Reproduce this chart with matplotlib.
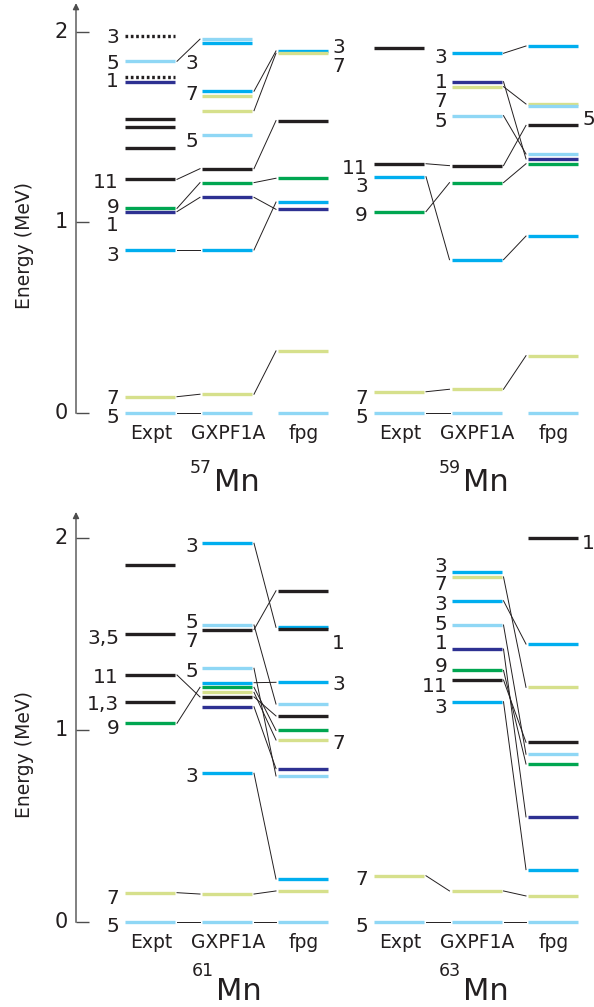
import matplotlib
matplotlib.use("Agg")
import matplotlib.pyplot as plt

plt.rcParams['font.family'] = ['DejaVu Sans']

# ---------------- data ----------------
# spin codes: '1','3','5','7','9' -> 2J of the state, 'k' = other / unassigned, 'd' = tentative (dotted)
columns = ["Expt", "GXPF1A", "fpg"]
yticks = [0, 1, 2]

# 57Mn
mn57_expt_E = [1.979, 1.845, 1.761, 1.738, 1.544, 1.499, 1.389, 1.226, 1.074, 1.057, 0.856, 0.087, 0.0]
mn57_expt_s = ['d', '5', 'd', '1', 'k', 'k', 'k', 'k', '9', '1', '3', '7', '5']
mn57_gx_E = [1.961, 1.939, 1.688, 1.661, 1.586, 1.459, 1.282, 1.209, 1.132, 0.856, 0.100, 0.0]
mn57_gx_s = ['5', '3', '3', '7', '7', '5', 'k', '9', '1', '3', '7', '5']
mn57_fpg_E = [1.899, 1.887, 1.534, 1.232, 1.107, 1.069, 0.327, 0.0]
mn57_fpg_s = ['3', '7', 'k', '9', '3', '1', '7', '5']
mn57_links_a = [(1, 0), (7, 6), (8, 7), (9, 8), (10, 9), (11, 10), (12, 11)]
mn57_links_b = [(2, 0), (4, 1), (6, 2), (7, 3), (8, 5), (9, 4), (10, 6)]
mn57_lab_expt = [("3", 1.979), ("5", 1.843), ("1", 1.750), ("11", 1.223), ("9", 1.089),
                 ("1", 0.996), ("3", 0.840), ("7", 0.087), ("5", -0.012)]
mn57_lab_gx = [("3", 1.846), ("7", 1.681), ("5", 1.438)]
mn57_lab_fpg = [("3", 1.927), ("7", 1.829)]

# 59Mn
mn59_expt_E = [1.913, 1.308, 1.240, 1.057, 0.113, 0.0]
mn59_expt_s = ['k', 'k', '3', '9', '7', '5']
mn59_gx_E = [1.887, 1.738, 1.712, 1.560, 1.298, 1.209, 0.805, 0.126, 0.0]
mn59_gx_s = ['3', '1', '7', '5', 'k', '9', '3', '7', '5']
mn59_fpg_E = [1.925, 1.621, 1.609, 1.509, 1.359, 1.333, 1.308, 0.929, 0.302, 0.0]
mn59_fpg_s = ['3', '7', '5', 'k', '5', '1', '9', '3', '7', '5']
mn59_links_a = [(1, 4), (2, 6), (3, 5), (4, 7), (5, 8)]
mn59_links_b = [(0, 0), (1, 5), (2, 1), (3, 4), (4, 3), (5, 6), (6, 7), (7, 8)]
mn59_lab_expt = [("11", 1.292), ("3", 1.197), ("9", 1.045), ("7", 0.091), ("5", -0.012)]
mn59_lab_gx = [("3", 1.874), ("1", 1.743), ("7", 1.647), ("5", 1.542)]
mn59_lab_fpg = [("5", 1.550)]

# 61Mn
mn61_expt_E = [1.858, 1.498, 1.286, 1.147, 1.035, 0.154, 0.0]
mn61_expt_s = ['k', 'k', 'k', 'k', '9', '7', '5']
mn61_gx_E = [1.971, 1.546, 1.522, 1.321, 1.246, 1.222, 1.196, 1.172, 1.121, 0.775, 0.147, 0.0]
mn61_gx_s = ['3', '5', 'k', '5', '3', '9', '7', 'k', '1', '3', '7', '5']
mn61_fpg_E = [1.724, 1.534, 1.524, 1.248, 1.135, 1.073, 0.998, 0.948, 0.799, 0.761, 0.225, 0.163, 0.0]
mn61_fpg_s = ['k', '3', 'k', '3', '5', 'k', '9', '7', '1', '5', '3', '7', '5']
mn61_links_a = [(2, 7), (4, 5), (5, 10), (6, 11)]
mn61_links_b = [(0, 1), (1, 4), (2, 0), (3, 9), (4, 3), (5, 6), (6, 7), (7, 5),
                (8, 8), (9, 10), (10, 11), (11, 12)]
mn61_lab_expt = [("3,5", 1.485), ("11", 1.282), ("1,3", 1.146), ("9", 1.021), ("7", 0.133), ("5", -0.012)]
mn61_lab_gx = [("3", 1.967), ("5", 1.568), ("7", 1.473), ("5", 1.317), ("3", 0.770)]
mn61_lab_fpg = [("1", 1.459), ("3", 1.247), ("7", 0.943)]

# 63Mn
mn63_expt_E = [0.242, 0.0]
mn63_expt_s = ['7', '5']
mn63_gx_E = [1.822, 1.796, 1.672, 1.546, 1.421, 1.310, 1.260, 1.147, 0.163, 0.0]
mn63_gx_s = ['3', '7', '3', '5', '1', '9', 'k', '3', '7', '5']
mn63_fpg_E = [1.997, 1.447, 1.222, 0.936, 0.874, 0.823, 0.548, 0.274, 0.137, 0.0]
mn63_fpg_s = ['k', '3', '7', 'k', '5', '9', '1', '3', '7', '5']
mn63_links_a = [(0, 8), (1, 9)]
mn63_links_b = [(1, 2), (2, 1), (3, 4), (4, 6), (5, 5), (6, 3), (7, 7), (8, 8), (9, 9)]
mn63_lab_expt = [("7", 0.236), ("5", -0.012)]
mn63_lab_gx = [("3", 1.863), ("7", 1.767), ("3", 1.663), ("5", 1.559), ("1", 1.459),
               ("9", 1.343), ("11", 1.239), ("3", 1.126)]
mn63_lab_fpg = [("1", 1.979)]

# ---------------- style ----------------
COL = {'1': '#2e3192', '3': '#00aeef', '5': '#8fd7f5', '7': '#d6e08c',
       '9': '#00a651', 'k': '#231f20', 'd': '#231f20'}
W, H = 594, 1007
LEN = 50
LABEL_FS = 14.5
fig = plt.figure(figsize=(W / 100, H / 100), dpi=100)


def make_axes(top_px, bot_px, zero_px, scale):
    ax = fig.add_axes([0, 1 - bot_px / H, 1, (bot_px - top_px) / H])
    ax.set_xlim(0, W)
    ax.set_ylim((zero_px - bot_px) / scale, (zero_px - top_px) / scale)
    ax.axis('off')
    return ax


ax_top = make_axes(0, 503, 413.3, 190.8)
ax_bot = make_axes(503, 1007, 922.3, 192.3)


def draw_axis(ax, top_E):
    ax.annotate('', xy=(76, top_E), xytext=(76, 0),
                arrowprops=dict(arrowstyle='-|>', lw=1.0, color='#4d4d4d',
                                mutation_scale=9, shrinkA=0, shrinkB=0))
    for t in yticks:
        ax.plot([76, 89], [t, t], color='#4d4d4d', lw=1.0, solid_capstyle='butt')
        ax.text(68, t, str(t), ha='right', va='center', fontsize=15, color='#231f20')


def draw_panel(ax, starts, cols, links_list, labs):
    for (E, s), x0 in zip(cols, starts):
        for e, c in zip(E, s):
            ax.plot([x0, x0 + LEN], [e, e], color=COL[c], lw=2.4,
                    ls=(0, (0.8, 0.8)) if c == 'd' else '-', solid_capstyle='butt')
    for k, links in enumerate(links_list):
        Ea, Eb = cols[k][0], cols[k + 1][0]
        xa, xb = starts[k] + LEN + 2, starts[k + 1] - 2
        for i, j in links:
            ax.plot([xa, xb], [Ea[i], Eb[j]], color='#231f20', lw=0.7)
    lab_expt, lab_gx, lab_fpg = labs
    for t, e in lab_expt:
        ax.annotate(t, (starts[0] - 6, e), xytext=(0, -1.5), textcoords='offset points',
                    ha='right', va='center', fontsize=LABEL_FS, color='#231f20')
    for t, e in lab_gx:
        ax.annotate(t, (starts[1] - 4, e), xytext=(0, -1.5), textcoords='offset points',
                    ha='right', va='center', fontsize=LABEL_FS, color='#231f20')
    for t, e in lab_fpg:
        ax.annotate(t, (starts[2] + LEN + 4, e), xytext=(0, -1.5), textcoords='offset points',
                    ha='left', va='center', fontsize=LABEL_FS, color='#231f20')


left = [125, 202, 278]
right = [374, 451.5, 528]

draw_axis(ax_top, 2.15)
draw_axis(ax_bot, 2.134)

draw_panel(ax_top, left,
           [(mn57_expt_E, mn57_expt_s), (mn57_gx_E, mn57_gx_s), (mn57_fpg_E, mn57_fpg_s)],
           [mn57_links_a, mn57_links_b], (mn57_lab_expt, mn57_lab_gx, mn57_lab_fpg))
draw_panel(ax_top, right,
           [(mn59_expt_E, mn59_expt_s), (mn59_gx_E, mn59_gx_s), (mn59_fpg_E, mn59_fpg_s)],
           [mn59_links_a, mn59_links_b], (mn59_lab_expt, mn59_lab_gx, mn59_lab_fpg))
draw_panel(ax_bot, left,
           [(mn61_expt_E, mn61_expt_s), (mn61_gx_E, mn61_gx_s), (mn61_fpg_E, mn61_fpg_s)],
           [mn61_links_a, mn61_links_b], (mn61_lab_expt, mn61_lab_gx, mn61_lab_fpg))
draw_panel(ax_bot, right,
           [(mn63_expt_E, mn63_expt_s), (mn63_gx_E, mn63_gx_s), (mn63_fpg_E, mn63_fpg_s)],
           [mn63_links_a, mn63_links_b], (mn63_lab_expt, mn63_lab_gx, mn63_lab_fpg))


def ftext(x, y, s, **kw):
    fig.text(x / W, 1 - y / H, s, color='#231f20', **kw)


# column labels
for base_y in (439, 948):
    for starts in (left, right):
        for name, x0 in zip(columns, starts):
            ftext(x0 + LEN / 2 + 1, base_y, name, ha='center', va='baseline', fontsize=13.5)

# nucleus titles
titles = [("57", 212, 473, 491), ("59", 461, 473, 491), ("61", 214, 976, 1000), ("63", 461, 976, 1000)]
for a, x, ysup, ybase in titles:
    ftext(x, ysup, a, ha='right', va='baseline', fontsize=12.5)
    ftext(x + 2, ybase, "Mn", ha='left', va='baseline', fontsize=22)

# y labels
for yc in (246, 754):
    ftext(24, yc, "Energy (MeV)", ha='center', va='center', rotation=90, fontsize=13.5)

fig.savefig("out.png", dpi=100)
